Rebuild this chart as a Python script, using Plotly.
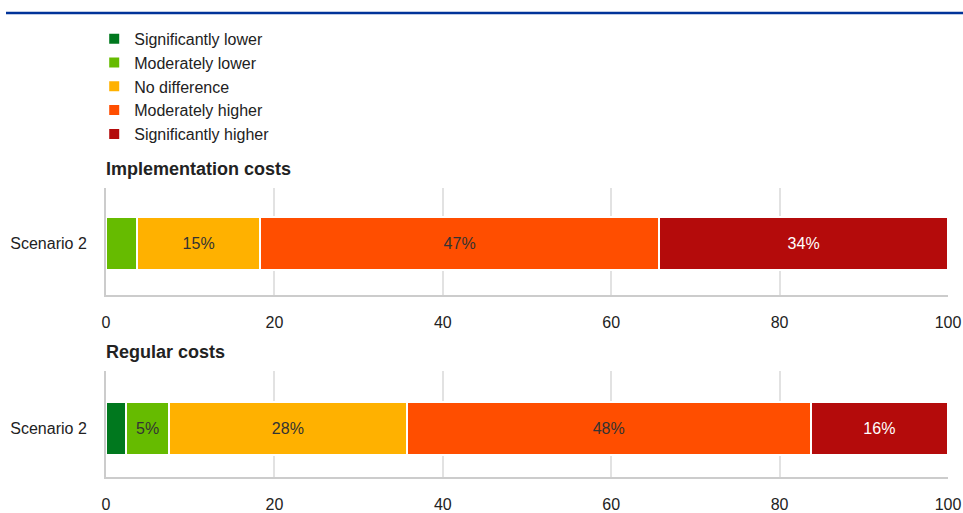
import plotly.graph_objects as go
from plotly.subplots import make_subplots

categories = ['Significantly lower', 'Moderately lower', 'No difference',
              'Moderately higher', 'Significantly higher']
colors = ['#00781e', '#66bb00', '#ffb100', '#ff4e00', '#b40b0b']
text_colors = ['#333333', '#333333', '#333333', '#333333', '#ffffff']

scenario = ['Scenario 2']

# shares (%), same order as categories
implementation = [0, 3.7, 14.6, 47.4, 34.3]
regular = [2.4, 5.1, 28.2, 48.0, 16.3]

panel_titles = ['Implementation costs', 'Regular costs']
x_ticks = [0, 20, 40, 60, 80, 100]

FONT = 'Arial, Liberation Sans, sans-serif'

fig = make_subplots(rows=2, cols=1)

for row, values in enumerate([implementation, regular], start=1):
    for i, cat in enumerate(categories):
        v = values[i]
        label = f'{round(v)}%' if v >= 4.5 else ''
        fig.add_trace(go.Bar(
            y=scenario, x=[v], orientation='h', name=cat,
            legendgroup=cat, showlegend=(row == 1),
            marker=dict(color=colors[i], line=dict(color='white', width=2)),
            width=0.5,
            text=[label], textposition='inside', insidetextanchor='middle',
            textangle=0,
            textfont=dict(color=text_colors[i], size=16, family=FONT),
            hoverinfo='x+name',
        ), row=row, col=1)

# pixel layout: plot area spans y=0..481 (px from top), x=106..948
H = 481.0


def py(p):
    return (H - p) / H


fig.update_layout(
    width=963, height=513,
    barmode='stack',
    plot_bgcolor='white', paper_bgcolor='white',
    margin=dict(l=106, r=15, t=0, b=32),
    font=dict(family=FONT, size=16, color='#222222'),
    legend=dict(x=-0.014, y=py(22), xanchor='left', yanchor='top',
                traceorder='normal', tracegroupgap=1,
                font=dict(size=16, color='#222222'), bgcolor='rgba(0,0,0,0)'),
    yaxis=dict(domain=[py(297), py(190)], range=[-0.478, 0.522]),
    yaxis2=dict(domain=[0, py(374)], range=[-0.46, 0.54]),
)

fig.update_xaxes(range=[0, 100], tickvals=x_ticks, showgrid=True,
                 gridcolor='#e2e2e2', gridwidth=1.5, zeroline=False,
                 showline=True, linecolor='#cccccc', linewidth=2,
                 ticks='outside', ticklen=12, tickcolor='rgba(0,0,0,0)',
                 tickfont=dict(size=16, color='#222222'))
fig.update_yaxes(showgrid=False, zeroline=False,
                 showline=True, linecolor='#cccccc', linewidth=2,
                 ticks='outside', ticklen=14, tickcolor='rgba(0,0,0,0)',
                 tickfont=dict(size=16, color='#222222'))

for title, yp in zip(panel_titles, [170, 355]):
    fig.add_annotation(text=f'<b>{title}</b>', xref='paper', yref='paper',
                       x=-2 / 842, y=py(yp), xanchor='left', yanchor='middle',
                       showarrow=False, font=dict(size=18, color='#222222'))

# blue rule at the top of the page
fig.add_shape(type='line', xref='paper', yref='paper',
              x0=(6 - 106) / 842, x1=(963 - 106) / 842, y0=py(13), y1=py(13),
              line=dict(color='#003399', width=2.5))

fig.write_html('out.html', config={'displayModeBar': False},
               post_script="document.body.style.margin='0';")
